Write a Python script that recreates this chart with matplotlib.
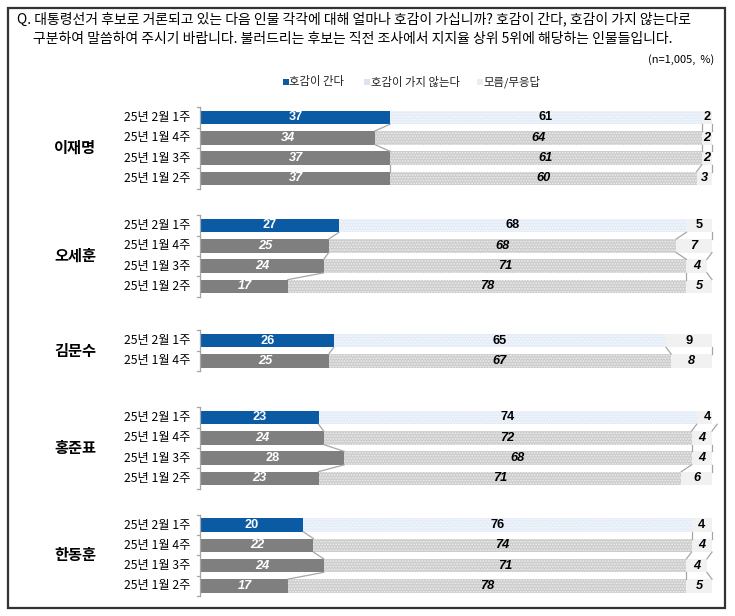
import matplotlib
matplotlib.use('Agg')
import matplotlib.pyplot as plt
from matplotlib.patches import Rectangle

plt.rcParams['font.family'] = ['Noto Sans CJK KR', 'DejaVu Sans']
plt.rcParams['hatch.linewidth'] = 0.8

# ---------------- data ----------------
title_line1 = 'Q. 대통령선거 후보로 거론되고 있는 다음 인물 각각에 대해 얼마나 호감이 가십니까? 호감이 간다, 호감이 가지 않는다로'
title_line2 = '구분하여 말씀하여 주시기 바랍니다. 불러드리는 후보는 직전 조사에서 지지율 상위 5위에 해당하는 인물들입니다.'
note = '(n=1,005,  %)'
legend_labels = ['호감이 간다', '호감이 가지 않는다', '모름/무응답']
candidates = ['이재명', '오세훈', '김문수', '홍준표', '한동훈']
periods = ['25년 2월 1주', '25년 1월 4주', '25년 1월 3주', '25년 1월 2주']
favorable = [[37, 34, 37, 37], [27, 25, 24, 17], [26, 25], [23, 24, 28, 23], [20, 22, 24, 17]]
unfavorable = [[61, 64, 61, 60], [68, 68, 71, 78], [65, 67], [74, 72, 68, 71], [76, 74, 71, 78]]
dont_know = [[2, 2, 2, 3], [5, 7, 4, 5], [9, 8], [4, 4, 4, 6], [4, 4, 4, 5]]
upright_first = [(3, 2)]  # 홍준표, 25년 1월 3주 label shown upright

# ---------------- style / layout ----------------
W, H = 735, 616
BLUE = '#0A5BA3'
GREY = '#7F7F7F'
LBLUE = '#E4ECF7'
LBLUE_H = '#F7FAFD'
LGREY = '#CDCDCD'
LGREY_H = '#EDEDED'
DK = '#F1F1F1'
LINEC = '#A6A6A6'
NUMFONT = ['Liberation Sans', 'DejaVu Sans']

X0, X1 = 201, 712
group_first = [117.5, 225.5, 340.5, 417.5, 525.0]
step = 20.3
bh = 13.5

fig = plt.figure(figsize=(W / 100, H / 100), dpi=100)
ax = fig.add_axes([X0 / W, 0, (X1 - X0) / W, 1])
ax.set_xlim(0, 100)
ax.set_ylim(H, 0)
ax.axis('off')


def fx(x):
    return x / W


def fy(y):
    return 1 - y / H


def px_to_data_x(x):
    return (x - X0) / (X1 - X0) * 100


for g, name in enumerate(candidates):
    fav = favorable[g]
    unf = unfavorable[g]
    dk = dont_know[g]
    n = len(fav)
    ys = [group_first[g] + i * step for i in range(n)]
    for i in range(n):
        y = ys[i]
        cur = (i == 0)
        ax.barh(y, fav[i], height=bh, left=0, color=BLUE if cur else GREY, linewidth=0)
        ax.barh(y, unf[i], height=bh, left=fav[i], color=LBLUE if cur else LGREY,
                edgecolor=LBLUE_H if cur else LGREY_H, hatch='......', linewidth=0)
        ax.barh(y, dk[i], height=bh, left=fav[i] + unf[i], color=DK, linewidth=0)
        it = 'normal' if cur or (g, i) in upright_first else 'italic'
        it2 = 'normal' if cur else 'italic'
        ax.text(fav[i] / 2, y, str(fav[i]), ha='center', va='center', color='white',
                fontsize=9.2, fontweight='bold', style=it, family=NUMFONT)
        ax.text(fav[i] + unf[i] / 2, y, str(unf[i]), ha='center', va='center', color='black',
                fontsize=9.2, fontweight='bold', style=it2, family=NUMFONT)
        ax.text(fav[i] + unf[i] + dk[i] / 2, y, str(dk[i]), ha='center', va='center',
                color='black', fontsize=9.2, fontweight='bold', style=it2, family=NUMFONT,
                clip_on=False)
        fig.text(fx(190), fy(y), periods[i], ha='right', va='center', fontsize=8.8,
                 fontweight='medium', color='black')
    # series lines
    for i in range(n - 1):
        c1a = [fav[i], fav[i] + unf[i], fav[i] + unf[i] + dk[i]]
        c1b = [fav[i + 1], fav[i + 1] + unf[i + 1], fav[i + 1] + unf[i + 1] + dk[i + 1]]
        for a, b in zip(c1a, c1b):
            ax.plot([a, b], [ys[i] + bh / 2, ys[i + 1] - bh / 2], color=LINEC, lw=0.9,
                    clip_on=False)
    # bracket axis
    xs = px_to_data_x(200)
    xt = px_to_data_x(196.5)
    top = ys[0] - step / 2
    bot = ys[-1] + step / 2
    ax.plot([xs, xs], [top, bot], color=LINEC, lw=0.9, clip_on=False)
    for k in range(n + 1):
        yy = top + k * step
        ax.plot([xt, xs], [yy, yy], color=LINEC, lw=0.9, clip_on=False)
    # group name
    fig.text(fx(75), fy((ys[0] + ys[-1]) / 2), name, ha='center', va='center',
             fontsize=11, fontweight='bold', color='black')

# title & note
fig.text(fx(17), fy(19), title_line1, ha='left', va='center', fontsize=10, color='black')
fig.text(fx(33), fy(39), title_line2, ha='left', va='center', fontsize=10, color='black')
fig.text(fx(714), fy(60), note, ha='right', va='center', fontsize=8, color='black')

# legend
leg_marker_x = [283, 364, 477]
leg_text_x = [289, 371, 483]
leg_colors = [BLUE, '#DCE4EF', '#EDEDED']
ly = 82
for mx, tx, c, lab in zip(leg_marker_x, leg_text_x, leg_colors, legend_labels):
    fig.add_artist(Rectangle((fx(mx), fy(ly + 3)), 6 / W, 6 / H, transform=fig.transFigure,
                             facecolor=c, edgecolor='none'))
    fig.text(fx(tx), fy(ly), lab, ha='left', va='center', fontsize=8.2, color='#222222')

# border
fig.add_artist(Rectangle((fx(8), fy(608)), (725 - 8) / W, (608 - 8) / H,
                         transform=fig.transFigure, facecolor='none',
                         edgecolor='#333333', lw=1.6))

fig.savefig('out.png', dpi=100)
